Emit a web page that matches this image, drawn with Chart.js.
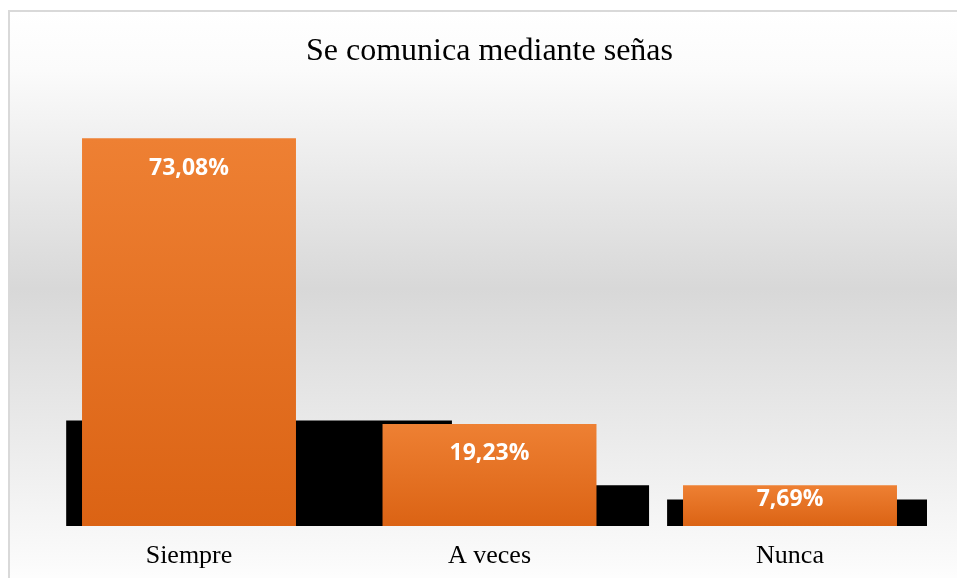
<!DOCTYPE html>
<html>
<head>
<meta charset="utf-8">
<script src="https://cdn.jsdelivr.net/npm/chart.js@4.4.0/dist/chart.umd.min.js"></script>
<style>
  html, body { margin: 0; padding: 0; background: #ffffff; width: 957px; height: 578px; overflow: hidden; }
  #bg { position: absolute; left: 8px; top: 10px; width: 960px; height: 580px;
        border: 2px solid #d9d9d9; box-sizing: border-box;
        background: linear-gradient(to bottom, #ffffff 0%, #fbfbfb 10%, #d8d8d8 48%, #fbfbfb 96%, #ffffff 100%); }
  #wrap { position: absolute; left: 0; top: 0; width: 957px; height: 578px; }
</style>
</head>
<body>
<div id="bg"></div>
<div id="wrap"><canvas id="c" width="957" height="578"></canvas></div>
<script>
const titleText = "Se comunica mediante señas";
const categories = ["Siempre", "A veces", "Nunca"];
const percentValues = [73.08, 19.23, 7.69];
const valueLabels = ["73,08%", "19,23%", "7,69%"];
// dark backdrop shapes seen behind the bars (x in category units, y in %)
const shadowX = [-0.409, 0.875, 1.531, 1.591, 2.456];
const shadowY = [19.9, 7.7, 0, 5.0, 5.0];

const shadowPoints = shadowX.map((x, i) => ({ x: x, y: shadowY[i] }));

function barGradient(ctx) {
  const chart = ctx.chart;
  const yScale = chart.scales.y;
  if (!yScale || ctx.dataIndex === undefined) return '#E97A2E';
  const top = yScale.getPixelForValue(percentValues[ctx.dataIndex]);
  const base = yScale.getPixelForValue(0);
  if (!isFinite(top) || !isFinite(base) || top === base) return '#E97A2E';
  const g = chart.ctx.createLinearGradient(0, top, 0, base);
  g.addColorStop(0, '#EE8033');
  g.addColorStop(1, '#DB6314');
  return g;
}

const labelPlugin = {
  id: 'valueLabels',
  afterDatasetsDraw(chart) {
    const meta = chart.getDatasetMeta(0);
    const c = chart.ctx;
    c.save();
    c.fillStyle = '#ffffff';
    c.font = 'bold 23px "Open Sans", "Noto Sans", sans-serif';
    c.textAlign = 'center';
    c.textBaseline = 'middle';
    meta.data.forEach((el, i) => {
      const top = el.y, base = el.base;
      const y = Math.min(top + 30, (top + base) / 2 - 6);
      c.fillText(valueLabels[i], el.x, y);
    });
    c.restore();
  }
};

new Chart(document.getElementById('c'), {
  data: {
    labels: categories,
    datasets: [
      {
        type: 'bar',
        data: percentValues,
        backgroundColor: barGradient,
        borderWidth: 0,
        grouped: false,
        categoryPercentage: 1.0,
        barPercentage: 0.712,
        xAxisID: 'x',
        yAxisID: 'y'
      },
      {
        type: 'line',
        data: shadowPoints,
        xAxisID: 'x2',
        yAxisID: 'y',
        stepped: 'before',
        fill: 'origin',
        backgroundColor: '#000000',
        borderColor: '#000000',
        borderWidth: 0,
        pointRadius: 0,
        tension: 0
      }
    ]
  },
  options: {
    responsive: false,
    animation: false,
    devicePixelRatio: 1,
    layout: { padding: { left: 38.75, right: 16.75, top: 0, bottom: 0 } },
    plugins: {
      legend: { display: false },
      tooltip: { enabled: false },
      title: {
        display: true,
        text: titleText,
        color: '#000000',
        font: { family: '"Liberation Serif", "Times New Roman", serif', size: 32, weight: 'normal' },
        padding: { top: 32, bottom: 31 }
      }
    },
    scales: {
      x: {
        type: 'category',
        offset: true,
        grid: { display: false, drawTicks: false },
        border: { display: false },
        ticks: {
          color: '#000000',
          padding: 15,
          font: { family: '"Liberation Serif", "Times New Roman", serif', size: 26 }
        },
        afterFit(scale) { scale.height = 52; }
      },
      x2: {
        type: 'linear',
        display: false,
        min: -0.5,
        max: 2.5
      },
      y: {
        display: false,
        min: 0,
        max: 80
      }
    }
  },
  plugins: [labelPlugin]
});
</script>
</body>
</html>
